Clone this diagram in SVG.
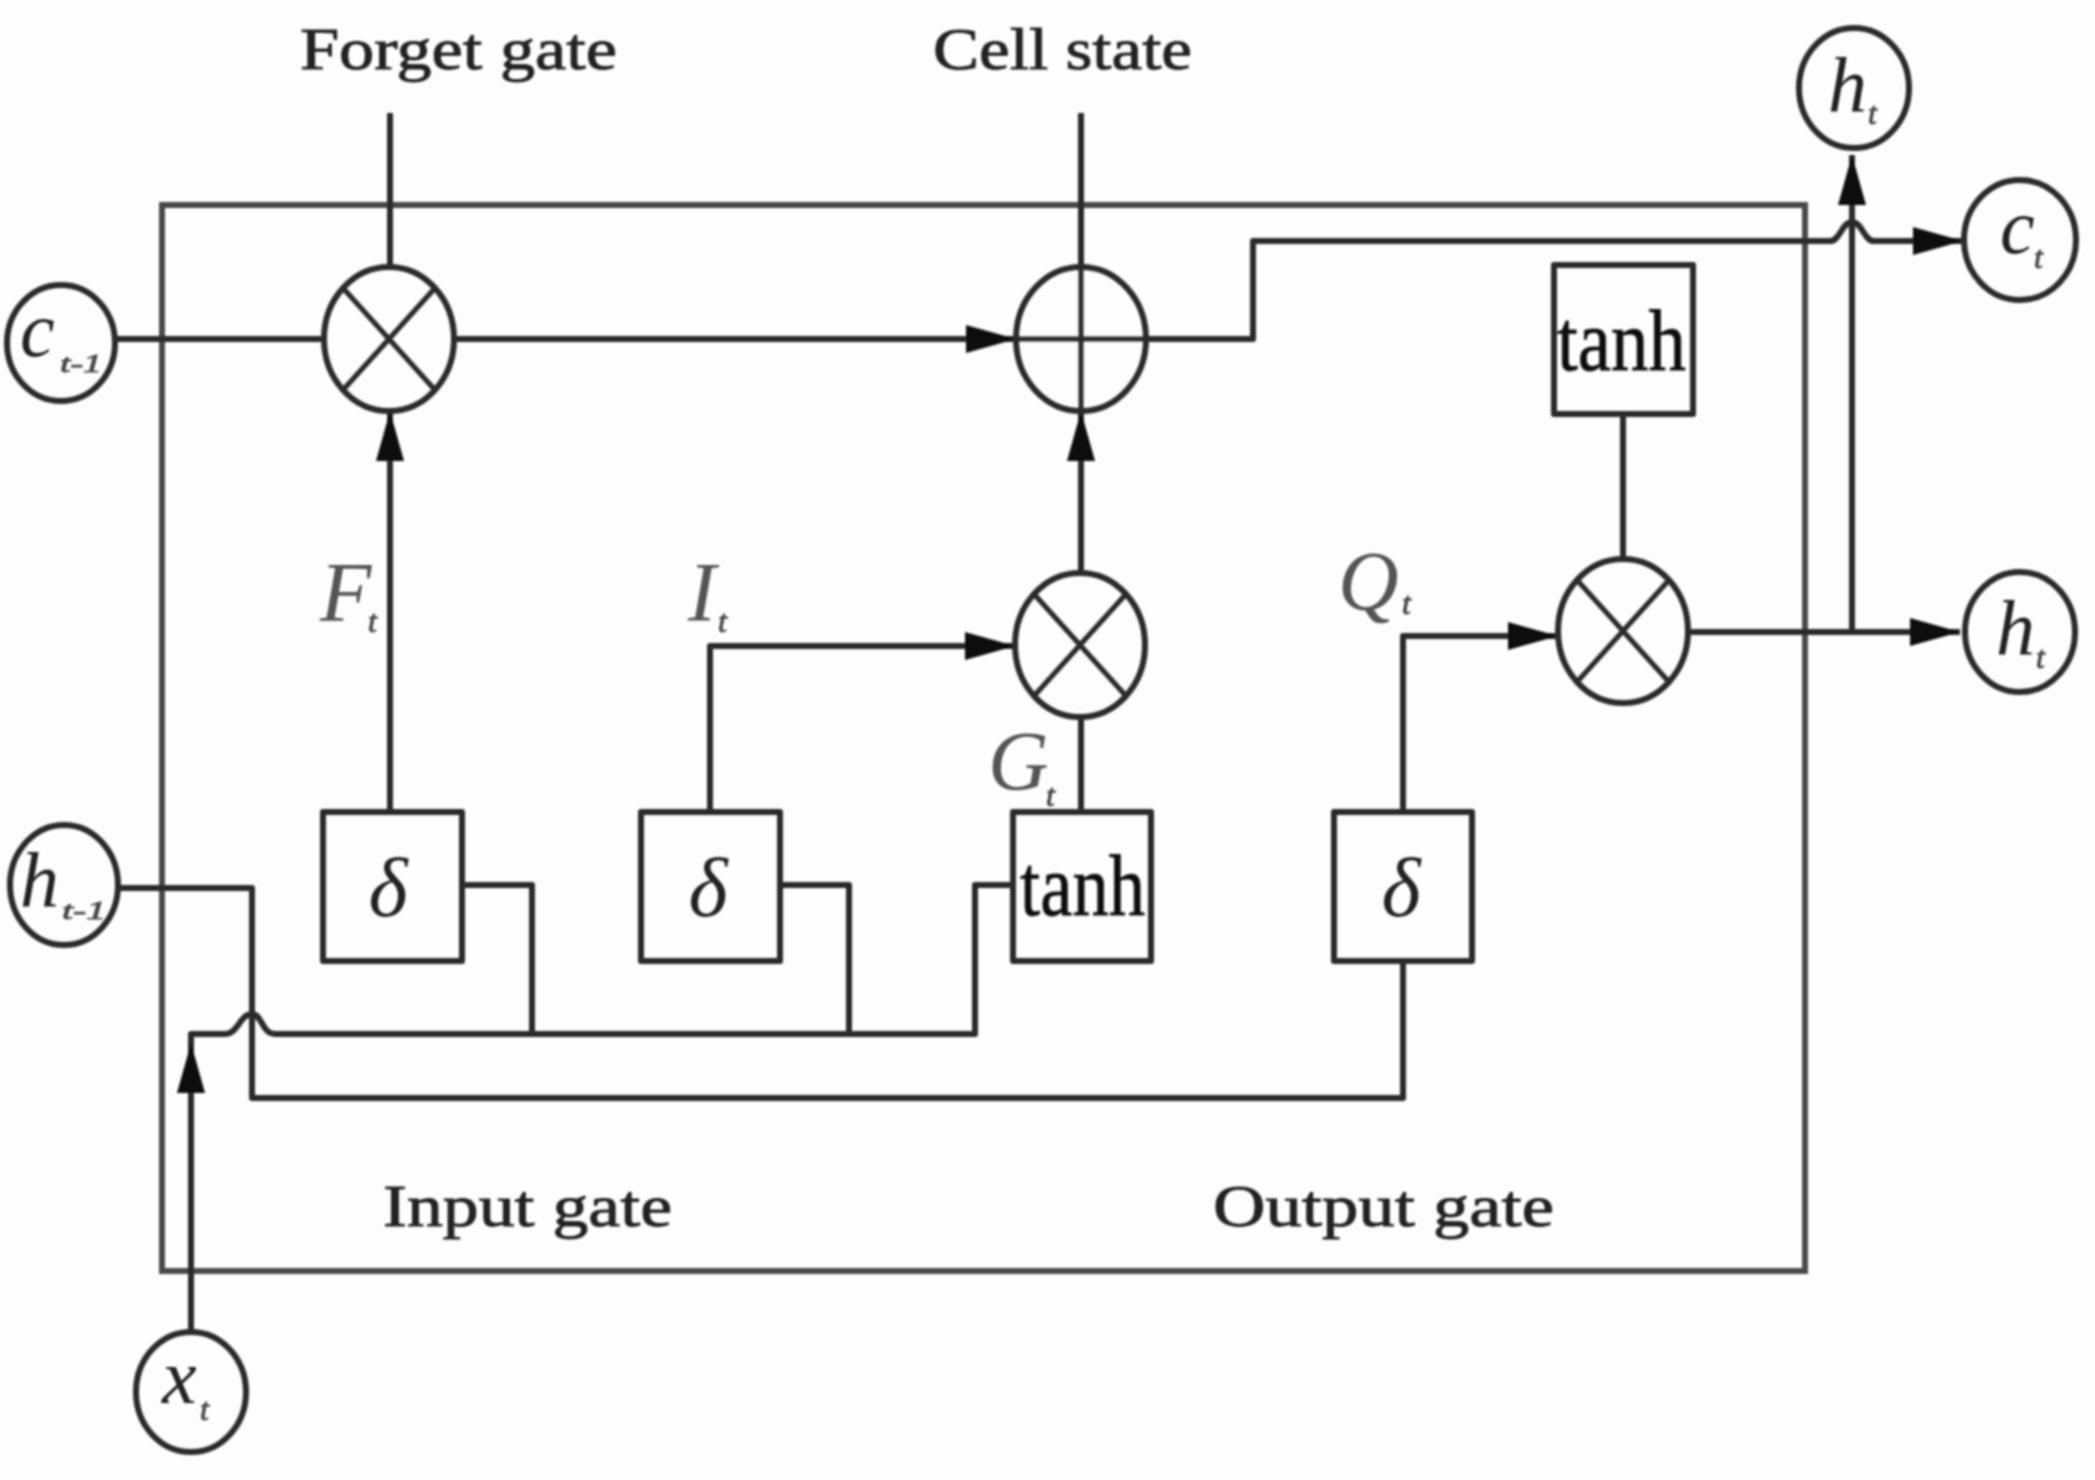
<svg xmlns="http://www.w3.org/2000/svg" width="2095" height="1480" viewBox="0 0 2095 1480">
<defs>
<marker id="arrow" viewBox="0 0 50 28" refX="50" refY="14" markerWidth="50" markerHeight="28" markerUnits="userSpaceOnUse" orient="auto"><path d="M0 0L50 14L0 28Z" fill="#111"/></marker>
<filter id="soft" x="-2%" y="-2%" width="104%" height="104%"><feGaussianBlur stdDeviation="1"/></filter>
</defs>
<style>
.shape{fill:none;stroke:#2a2a2a;stroke-width:6;stroke-linejoin:round}
.thin{fill:none;stroke:#2a2a2a;stroke-width:5}
.wire{fill:none;stroke:#2a2a2a;stroke-width:6;stroke-linejoin:round}
.frame{fill:none;stroke:#4a4a4a;stroke-width:6}
.arrow{marker-end:url(#arrow)}
text{font-family:"Liberation Serif","Times New Roman",serif;fill:#222}
.caption{font-size:60px;stroke:#222;stroke-width:0.9}
.math{font-size:84px;font-style:italic;fill:#555}
.inner{font-size:78px;font-style:italic;fill:#222}
.delta{font-size:84px;font-style:italic;fill:#222}
.sub{font-size:32px;font-style:italic;fill:#444;stroke:#444;stroke-width:0.8}
.fn{font-size:86px;fill:#111;stroke:#111;stroke-width:0.8}
</style>
<rect width="2095" height="1480" fill="#fdfdfd"/>
<g filter="url(#soft)">
<rect id="frame" class="frame" x="162" y="205" width="1643" height="1066"/>
<g id="connectors">
<path class="wire" d="M115 339H324"/>
<path class="wire arrow" d="M454 339H1016"/>
<path class="wire" d="M390 113V267"/>
<path class="wire" d="M1081 113V267"/>
<path class="wire arrow" d="M390 811V411"/>
<path class="wire arrow" d="M1081 572V411"/>
<path class="wire" d="M1081 716V812"/>
<path class="wire arrow" d="M710 811V646H1015"/>
<path class="wire arrow" d="M1403 812V636H1558"/>
<path class="wire" d="M1623 414V559"/>
<path class="wire arrow" d="M1688 632H1960"/>
<path class="wire" d="M1852 632V222"/>
<path class="wire arrow" d="M1852 222V155"/>
<path class="wire arrow" d="M1146 339H1253V241H1830C1840 241 1842 222 1852 222C1862 222 1864 241 1874 241H1963"/>
<path class="wire" d="M118 888H252V1098H1403V961"/>
<path class="wire arrow" d="M191 1332V1043"/>
<path class="wire" d="M191 1043V1034H225C238 1034 240 1014 252 1014C262 1014 262 1034 275 1034H975V885H1013"/>
<path class="wire" d="M462 885H532V1034"/>
<path class="wire" d="M780 885H849V1034"/>
</g>
<g id="c-prev"><ellipse class="shape" cx="61" cy="343" rx="54" ry="58"/><text class="inner" x="20" y="356">c</text><text class="sub" x="60" y="372" style="font-size:26px" textLength="42" lengthAdjust="spacingAndGlyphs">t-1</text></g>
<g id="h-prev"><ellipse class="shape" cx="64" cy="885" rx="54" ry="60"/><text class="inner" x="20" y="907">h</text><text class="sub" x="62" y="919" style="font-size:26px" textLength="44" lengthAdjust="spacingAndGlyphs">t-1</text></g>
<g id="x-t"><ellipse class="shape" cx="191" cy="1392" rx="55" ry="60"/><text class="inner" x="162" y="1403">x</text><text class="sub" x="200" y="1420">t</text></g>
<g id="h-top"><ellipse class="shape" cx="1854" cy="88" rx="55" ry="60"/><text class="inner" x="1828" y="112">h</text><text class="sub" x="1868" y="124">t</text></g>
<g id="c-t"><ellipse class="shape" cx="2020" cy="240" rx="56" ry="60"/><text class="inner" x="2000" y="253">c</text><text class="sub" x="2034" y="268">t</text></g>
<g id="h-t"><ellipse class="shape" cx="2020" cy="632" rx="55" ry="60"/><text class="inner" x="1996" y="655">h</text><text class="sub" x="2036" y="668">t</text></g>
<g id="mul-forget"><ellipse class="shape" cx="389" cy="339" rx="65" ry="72"/><path class="thin" d="M343 288L435 390M435 288L343 390"/></g>
<g id="add-cell"><ellipse class="shape" cx="1081" cy="339" rx="65" ry="72"/><path class="thin" d="M1016 339H1146M1081 267V411"/></g>
<g id="mul-input"><ellipse class="shape" cx="1080" cy="645" rx="65" ry="72"/><path class="thin" d="M1034 594L1126 696M1126 594L1034 696"/></g>
<g id="mul-output"><ellipse class="shape" cx="1623" cy="631" rx="65" ry="72"/><path class="thin" d="M1577 580L1669 682M1669 580L1577 682"/></g>
<g id="delta-forget"><rect class="shape" x="323" y="812" width="139" height="149"/><text class="delta" x="388" y="916" text-anchor="middle">δ</text></g>
<g id="delta-input"><rect class="shape" x="641" y="812" width="139" height="149"/><text class="delta" x="708" y="916" text-anchor="middle">δ</text></g>
<g id="tanh-input"><rect class="shape" x="1013" y="812" width="138" height="149"/><text class="fn" x="1020" y="915" textLength="125" lengthAdjust="spacingAndGlyphs">tanh</text></g>
<g id="delta-output"><rect class="shape" x="1334" y="812" width="138" height="149"/><text class="delta" x="1401" y="916" text-anchor="middle">δ</text></g>
<g id="tanh-output"><rect class="shape" x="1554" y="265" width="139" height="149"/><text class="fn" x="1557" y="370" textLength="129" lengthAdjust="spacingAndGlyphs">tanh</text></g>
<g id="labels">
<text class="caption" x="300" y="69" textLength="317" lengthAdjust="spacingAndGlyphs">Forget gate</text>
<text class="caption" x="933" y="69" textLength="259" lengthAdjust="spacingAndGlyphs">Cell state</text>
<text class="caption" x="383" y="1226" textLength="289" lengthAdjust="spacingAndGlyphs">Input gate</text>
<text class="caption" x="1213" y="1226" textLength="341" lengthAdjust="spacingAndGlyphs">Output gate</text>
<text class="math" x="320" y="621">F</text><text class="sub" x="368" y="632">t</text>
<text class="math" x="688" y="621">I</text><text class="sub" x="718" y="632">t</text>
<text class="math" x="988" y="790">G</text><text class="sub" x="1046" y="806">t</text>
<text class="math" x="1338" y="610">Q</text><text class="sub" x="1402" y="614">t</text>
</g>
</g>
</svg>
